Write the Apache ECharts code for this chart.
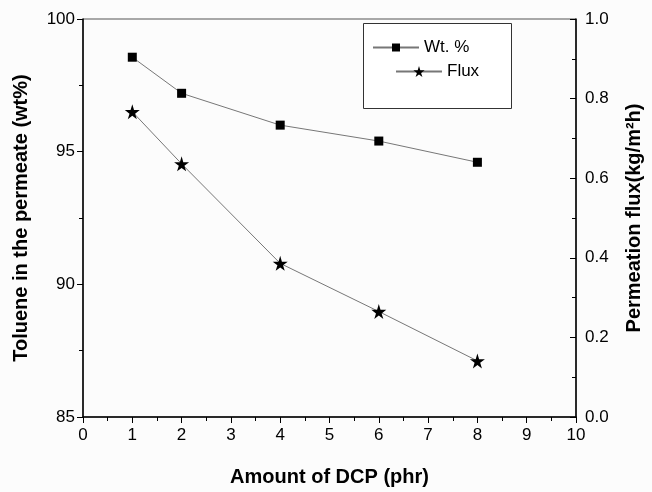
<!DOCTYPE html>
<html>
<head>
<meta charset="utf-8">
<script src="https://cdn.jsdelivr.net/npm/echarts@6/dist/echarts.min.js"></script>
<style>
  html, body { margin: 0; padding: 0; background: #fcfcfc; }
  #chart { width: 652px; height: 492px; }
</style>
</head>
<body>
<div id="chart"></div>
<script>
// data
const dcp = [1, 2, 4, 6, 8];
const wtPercent = [98.56, 97.2, 96.0, 95.4, 94.6];
const flux = [0.767, 0.636, 0.386, 0.265, 0.141];

const STAR = "path://M50,0 L61,35 L98,35 L68,57 L79,91 L50,70 L21,91 L32,57 L2,35 L39,35 Z";
const FONT = "Liberation Sans, Arial, sans-serif";

let pairs = (xs, ys) => xs.map((x, i) => [x, ys[i]]);

let labelStyle = { color: "#000", fontSize: 17, fontFamily: FONT };
let nameStyle = { color: "#000", fontSize: 20, fontWeight: "bold", fontFamily: FONT };
let axisLine = { show: true, lineStyle: { color: "#000", width: 1.5 } };
let tick = { show: true, length: 6, lineStyle: { color: "#000", width: 1 } };
let minor = { show: true, splitNumber: 2, length: 4, lineStyle: { color: "#000", width: 1 } };

const chart = echarts.init(document.getElementById("chart"));

chart.setOption({
  backgroundColor: "#fcfcfc",
  animation: false,
  grid: { left: 83, right: 71, top: 19, bottom: 68, show: true, borderColor: "#555", borderWidth: 1 },
  xAxis: {
    type: "value", min: 0, max: 10, interval: 1,
    name: "Amount of DCP (phr)", nameLocation: "middle", nameGap: 50, nameTextStyle: nameStyle,
    axisLine: axisLine, axisTick: tick, minorTick: minor,
    axisLabel: Object.assign({ margin: 10 }, labelStyle),
    splitLine: { show: false }
  },
  yAxis: [
    {
      type: "value", min: 85, max: 100, interval: 5, position: "left",
      name: "Toluene in the permeate (wt%)", nameLocation: "middle", nameGap: 52, nameTextStyle: nameStyle,
      axisLine: axisLine, axisTick: tick, minorTick: minor,
      axisLabel: Object.assign({ margin: 8 }, labelStyle),
      splitLine: { show: false }
    },
    {
      type: "value", min: 0, max: 1, interval: 0.2, position: "right",
      name: "Permeation flux(kg/m²h)", nameLocation: "middle", nameGap: 48, nameRotate: 90,
      nameTextStyle: nameStyle,
      axisLine: axisLine,
      axisTick: Object.assign({ inside: true }, tick),
      minorTick: Object.assign({}, minor, { inside: true }),
      axisLabel: Object.assign({ margin: 9, formatter: v => v.toFixed(1) }, labelStyle),
      splitLine: { show: false }
    }
  ],
  legend: [
    {
      left: 367, top: 34, itemWidth: 46, itemHeight: 10, itemGap: 8,
      data: ["Wt. %"], textStyle: { color: "#000", fontSize: 17, fontFamily: FONT }
    },
    {
      left: 390, top: 58, itemWidth: 46, itemHeight: 14, itemGap: 8,
      data: ["Flux"], textStyle: { color: "#000", fontSize: 17, fontFamily: FONT }
    }
  ],
  graphic: [{
    type: "rect", left: 363, top: 23, silent: true,
    shape: { width: 148, height: 85 },
    style: { fill: "#fff", stroke: "#333", lineWidth: 1 },
    z: -1
  }],
  series: [
    {
      name: "Wt. %", type: "line", yAxisIndex: 0,
      data: pairs(dcp, wtPercent),
      symbol: "rect", symbolSize: 9,
      itemStyle: { color: "#000" },
      lineStyle: { color: "#777", width: 1 }
    },
    {
      name: "Flux", type: "line", yAxisIndex: 1,
      data: pairs(dcp, flux),
      symbol: STAR, symbolSize: 15,
      itemStyle: { color: "#000" },
      lineStyle: { color: "#777", width: 1 }
    }
  ]
});
</script>
</body>
</html>
